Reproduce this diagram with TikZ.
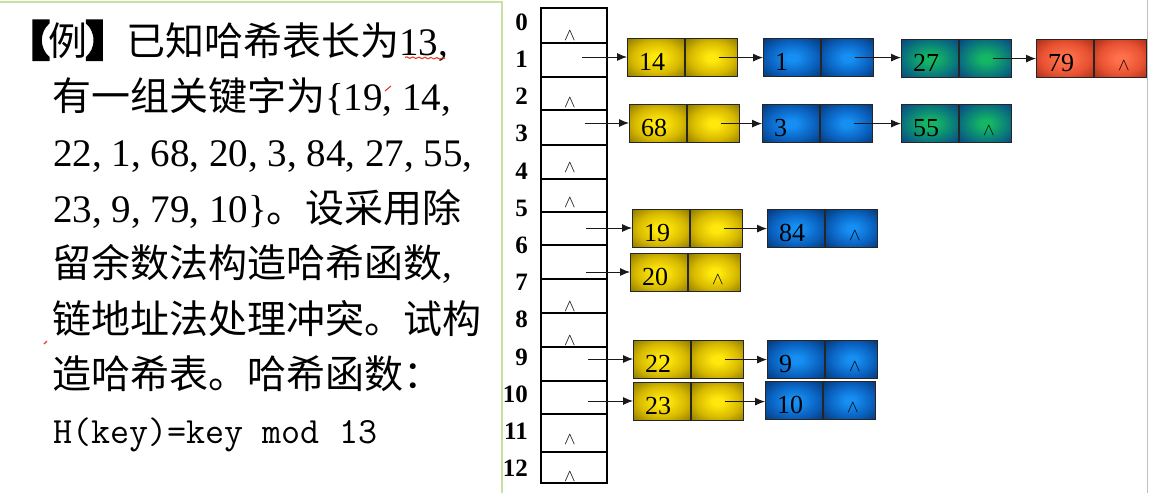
\documentclass[tikz,border=0pt]{standalone}
\usepackage{fontspec}
\setmainfont{Liberation Serif}
\newfontfamily\cjk{Noto Sans CJK SC}
\newfontfamily\cjkheavy[FakeBold=14]{Noto Sans CJK SC}
\usetikzlibrary{arrows.meta,decorations.pathmorphing}
\definecolor{ya}{RGB}{255,232,12}
\definecolor{yb}{RGB}{215,185,0}
\definecolor{yc}{RGB}{140,120,0}
\definecolor{ba}{RGB}{22,142,242}
\definecolor{bb}{RGB}{10,98,192}
\definecolor{bc}{RGB}{5,55,118}
\definecolor{ta}{RGB}{20,182,100}
\definecolor{tb}{RGB}{10,125,122}
\definecolor{tc}{RGB}{10,68,132}
\definecolor{ra}{RGB}{255,112,76}
\definecolor{rb}{RGB}{232,82,50}
\definecolor{rc}{RGB}{170,45,25}
\definecolor{panelc}{RGB}{200,225,160}
\definecolor{inkred}{RGB}{230,60,40}
\pgfdeclareradialshading{yshade}{\pgfpoint{0bp}{0bp}}{color(0bp)=(ya); color(5bp)=(ya); color(21bp)=(yb); color(36bp)=(yc); color(50bp)=(yc)}
\pgfdeclareradialshading{bshade}{\pgfpoint{0bp}{0bp}}{color(0bp)=(ba); color(5bp)=(ba); color(21bp)=(bb); color(36bp)=(bc); color(50bp)=(bc)}
\pgfdeclareradialshading{tshade}{\pgfpoint{0bp}{0bp}}{color(0bp)=(ta); color(5bp)=(ta); color(21bp)=(tb); color(36bp)=(tc); color(50bp)=(tc)}
\pgfdeclareradialshading{rshade}{\pgfpoint{0bp}{0bp}}{color(0bp)=(ra); color(5bp)=(ra); color(21bp)=(rb); color(36bp)=(rc); color(50bp)=(rc)}
\tikzset{
  fld/.style={draw=black!85, line width=1.2pt, minimum height=38pt, inner sep=0pt, anchor=north west, shade},
  num/.style={anchor=base west, inner sep=0pt, font=\fontsize{26}{26}\selectfont},
  nulmark/.style={inner sep=0pt, font=\fontsize{16}{16}\selectfont},
  idx/.style={anchor=base east, inner sep=0pt, font=\bfseries\fontsize{25}{25}\selectfont},
  txt/.style={anchor=base west, inner sep=0pt, font=\fontsize{39}{39}\selectfont},
  col/.style={draw=black, line width=1.2pt},
  arr/.style={-{Latex[length=10pt,width=8pt]}, line width=0.9pt, draw=black!90},
  redink/.style={draw=inkred, line width=1.1pt}
}
\newcommand\lbox[5]{%
  \node[fld,shading=#4,minimum width=57pt] (#1) at (#2,#3) {};
  \node[fld,shading=#4,minimum width=52pt] (#1p) at (#1.north east) {};
  \path (#1.west) ++(12,12.5) node[num] {#5};
  \path (#1p.center) ++(7,0) coordinate (#1t);
}
\newcommand\nulin[1]{\path (#1p.center) ++(3,7.5) node[nulmark] {$\wedge$};}
\begin{document}
\begin{tikzpicture}[x=1pt,y=-1pt]
\useasboundingbox (0,0) rectangle (1149,493);
\fill[white] (0,0) rectangle (1149,493);
% panel borders
\draw[panelc, line width=1.5pt] (0,2) -- (502,2) -- (502,493);
\draw[black!25, line width=1pt] (1147,0) -- (1147,493);
% left text
\node[txt] (l1) at (9,55) {{\cjkheavy 【}{\cjk 例}{\cjkheavy 】}{\cjk 已知哈希表长为}13,};
\node[txt] (l2) at (52,110.6) {{\cjk 有一组关键字为}\{19, 14,};
\node[txt] (l3) at (53,166) {22, 1, 68, 20, 3, 84, 27, 55,};
\node[txt] (l4) at (53,222) {23, 9, 79, 10\}{\cjk 。设采用除}};
\node[txt] (l5) at (52,277) {{\cjk 留余数法构造哈希函数},};
\node[txt] (l6) at (52,333) {{\cjk 链地址法处理冲突。试构}};
\node[txt] (l7) at (52,388) {{\cjk 造哈希表。哈希函数：}};
\node[anchor=base west, inner sep=0pt, font=\ttfamily\addfontfeature{FakeBold=1.5}\fontsize{37}{37}\selectfont] (l8) at (53,443) {H(key)=key mod 13};
% red ink marks
\draw[redink, decorate, decoration={snake, amplitude=0.7pt, segment length=6pt}] (405,57.5) -- (445,58.5);
\draw[redink] (385,91) -- (391,86);
\draw[redink] (44,344) -- (47,341);
% index labels
\foreach \i in {0,...,12} \node[idx] (i\i) at (528,{30.2+37.2*\i}) {\i};
% hash table column
\draw[col] (541,8) rectangle (607,483);
\foreach \y in {43,77,110,145,179,212,245,279,313,347,381,414,452} \draw[col] (541,\y) -- (607,\y);
\foreach \y [count=\k] in {36,103,168,203,307,341,440,477} \node[nulmark] (n\k) at (570,\y) {$\wedge$};
% arrow start points in the table
\coordinate (s1) at (582,57);
\coordinate (s3) at (585,123);
\coordinate (s6) at (586,228);
\coordinate (s7) at (586,272);
\coordinate (s9) at (588,359);
\coordinate (s10) at (588,401);
% chain nodes
\lbox{b14}{627}{38}{yshade}{14}
\lbox{b1}{763}{38}{bshade}{1}
\lbox{b27}{901}{39}{tshade}{27}
\lbox{b79}{1036}{39}{rshade}{79}
\lbox{b68}{629}{104}{yshade}{68}
\lbox{b3}{762}{104}{bshade}{3}
\lbox{b55}{901}{104}{tshade}{55}
\lbox{b19}{632}{209}{yshade}{19}
\lbox{b84}{767}{209}{bshade}{84}
\lbox{b20}{630}{253}{yshade}{20}
\lbox{b22}{633}{340}{yshade}{22}
\lbox{b9}{767}{340}{bshade}{9}
\lbox{b23}{633}{382}{yshade}{23}
\lbox{b10}{765}{381}{bshade}{10}
\nulin{b79}\nulin{b55}\nulin{b84}\nulin{b20}\nulin{b9}\nulin{b10}
% arrows
\draw[arr] (s1) -- (s1 -| b14.west);
\draw[arr] (b14t) -- (b14t -| b1.west);
\draw[arr] (b1t) -- (b1t -| b27.west);
\draw[arr] (b27t) -- (b27t -| b79.west);
\draw[arr] (s3) -- (s3 -| b68.west);
\draw[arr] (b68t) -- (b68t -| b3.west);
\draw[arr] (b3t) -- (b3t -| b55.west);
\draw[arr] (s6) -- (s6 -| b19.west);
\draw[arr] (b19t) -- (b19t -| b84.west);
\draw[arr] (s7) -- (s7 -| b20.west);
\draw[arr] (s9) -- (s9 -| b22.west);
\draw[arr] (b22t) -- (b22t -| b9.west);
\draw[arr] (s10) -- (s10 -| b23.west);
\draw[arr] (b23t) -- (b23t -| b10.west);
\end{tikzpicture}
\end{document}
